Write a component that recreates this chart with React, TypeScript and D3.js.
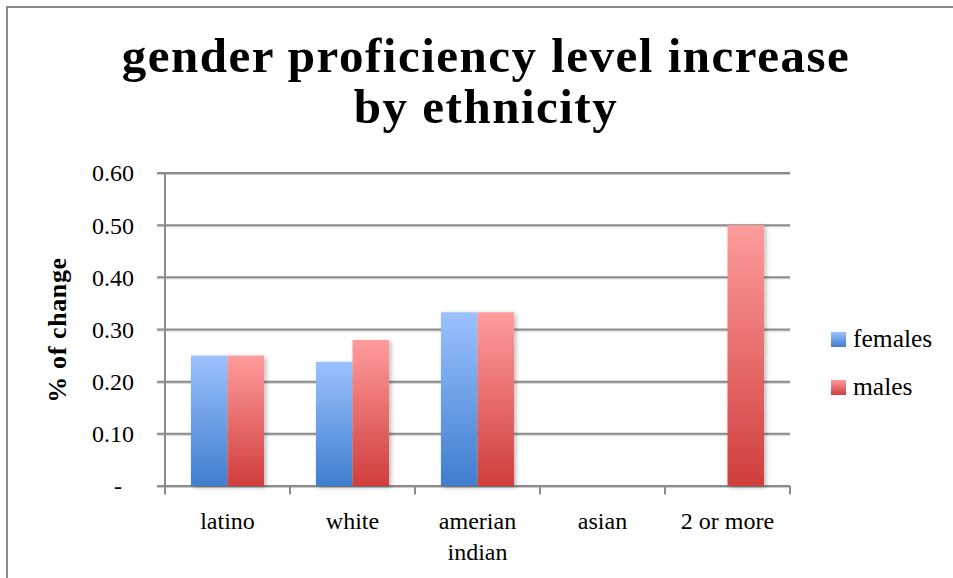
import React from "react";
import * as d3 from "d3";

const categories = ["latino", "white", "amerian\nindian", "asian", "2 or more"];
const seriesNames = ["females", "males"];
const females = [0.25, 0.238, 0.333, 0, 0];
const males = [0.25, 0.28, 0.333, 0, 0.5];
const yTicks = [0, 0.1, 0.2, 0.3, 0.4, 0.5, 0.6];

const W = 953;
const H = 578;
const plot = { left: 165, right: 790, top: 173, bottom: 486 };
const font = "'Liberation Serif', 'DejaVu Serif', serif";
const grid = "#8c8c8c";

const gradients = [
  { id: "gradFemales", top: "#9cc1ff", bottom: "#3e7ecd" },
  { id: "gradMales", top: "#ff9c9c", bottom: "#cf3e3c" },
];

export default function App() {
  const y = d3.scaleLinear().domain([0, 0.6]).range([plot.bottom, plot.top]);
  const x0 = d3.scaleBand<string>().domain(categories).range([plot.left, plot.right]).padding(0);
  const x1 = d3
    .scaleBand<string>()
    .domain(seriesNames)
    .range([0, x0.bandwidth()])
    .paddingInner(0)
    .paddingOuter(0.71);

  const values = [females, males];
  const fmt = (v: number) => (v === 0 ? "-" : d3.format(".2f")(v));
  const tickEdges = [...categories.map((c) => x0(c) as number), plot.right];

  return (
    <svg width={W} height={H} style={{ position: "absolute", left: 0, top: 0, background: "#fff" }}>
      <defs>
        {gradients.map((g) => (
          <linearGradient key={g.id} id={g.id} x1="0" y1="0" x2="0" y2="1">
            <stop offset="0" stopColor={g.top} />
            <stop offset="1" stopColor={g.bottom} />
          </linearGradient>
        ))}
        <filter id="barShadow" x="-20%" y="-10%" width="150%" height="130%">
          <feDropShadow dx="2" dy="1.5" stdDeviation="2" floodColor="#000" floodOpacity="0.28" />
        </filter>
        <filter id="lineShadow" x="-5%" y="-200%" width="110%" height="500%">
          <feDropShadow dx="0" dy="1" stdDeviation="0.6" floodColor="#000" floodOpacity="0.2" />
        </filter>
      </defs>

      {/* chart frame */}
      <rect x={7} y={7} width={1000} height={620} fill="none" stroke="#8a8a8a" strokeWidth={2} />

      {/* title */}
      <text
        textAnchor="middle"
        fontFamily={font}
        fontWeight="bold"
        fontSize={49}
        letterSpacing={1.5}
        fill="#000"
      >
        <tspan x={486} y={72}>gender proficiency level increase</tspan>
        <tspan x={486} y={123}>by ethnicity</tspan>
      </text>

      {/* gridlines and axis ticks */}
      <g filter="url(#lineShadow)">
        {yTicks.map((t) => (
          <line key={t} x1={plot.left - 8} x2={plot.right} y1={y(t)} y2={y(t)} stroke={grid} strokeWidth={2} />
        ))}
        <line x1={plot.left} x2={plot.left} y1={plot.top} y2={plot.bottom + 8} stroke={grid} strokeWidth={2} />
        {tickEdges.map((tx, i) => (
          <line key={i} x1={tx} x2={tx} y1={plot.bottom} y2={plot.bottom + 8} stroke={grid} strokeWidth={2} />
        ))}
      </g>

      {yTicks.map((t) => (
        <text
          key={t}
          x={t === 0 ? plot.left - 43 : plot.left - 31}
          y={y(t)}
          dy="0.35em"
          textAnchor="end"
          fontFamily={font}
          fontSize={24}
          fill="#000"
        >
          {fmt(t)}
        </text>
      ))}

      {/* y axis title */}
      <text
        transform={`translate(66, 330) rotate(-90)`}
        textAnchor="middle"
        fontFamily={font}
        fontWeight="bold"
        fontSize={26}
        letterSpacing={0.6}
        fill="#000"
      >
        % of change
      </text>

      {/* bars */}
      <g filter="url(#barShadow)">
        {categories.map((c, ci) =>
          seriesNames.map((s, si) => {
            const v = values[si][ci];
            if (v <= 0) return null;
            return (
              <rect
                key={c + s}
                x={(x0(c) as number) + (x1(s) as number)}
                y={y(v)}
                width={x1.bandwidth()}
                height={y(0) - y(v)}
                fill={`url(#${gradients[si].id})`}
              />
            );
          })
        )}
      </g>

      {/* category labels */}
      {categories.map((c) => {
        const cx = (x0(c) as number) + x0.bandwidth() / 2;
        const lines = c.split("\n");
        return (
          <text key={c} textAnchor="middle" fontFamily={font} fontSize={24} fill="#000">
            {lines.map((l, i) => (
              <tspan key={i} x={cx} y={529 + i * 31}>
                {l}
              </tspan>
            ))}
          </text>
        );
      })}

      {/* legend */}
      {seriesNames.map((s, i) => (
        <g key={s} transform={`translate(831, ${332 + i * 48})`}>
          <rect width={15} height={15} fill={`url(#${gradients[i].id})`} />
          <text x={22} y={15} fontFamily={font} fontSize={25.5} fill="#000">
            {s}
          </text>
        </g>
      ))}
    </svg>
  );
}
